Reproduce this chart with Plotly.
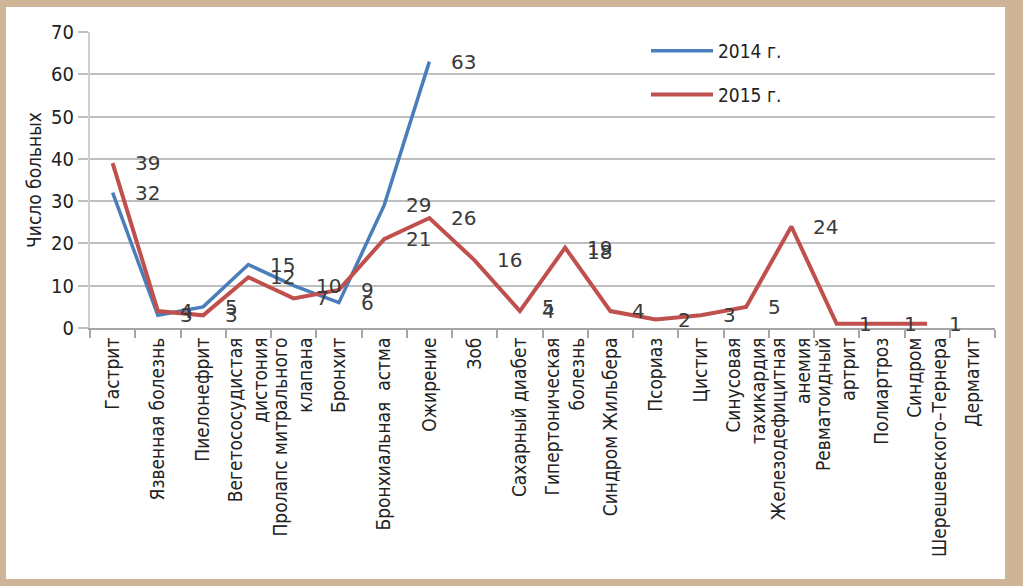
import plotly.graph_objects as go

categories = [
    "Гастрит", "Язвенная болезнь", "Пиелонефрит", "Вегетососудистая<br>дистония",
    "Пролапс митрального<br>клапана", "Бронхит", "Бронхиальная  астма", "Ожирение",
    "Зоб", "Сахарный диабет", "Гипертоническая<br>болезнь", "Синдром Жильбера",
    "Псориаз", "Цистит", "Синусовая<br>тахикардия", "Железодефицитная<br>анемия",
    "Ревматоидный<br>артрит", "Полиартроз", "Синдром<br>Шерешевского–Тернера", "Дерматит",
]
# line values
values_2014 = [32, 3, 5, 15, 10, 6, 29, 63, None, None, None, None,
               None, None, None, None, None, None, None, None]
values_2015 = [39, 4, 3, 12, 7, 9, 21, 26, 16, 4, 19, 4,
               2, 3, 5, 24, 1, 1, 1, None]
# data labels (2014 labels include hidden points)
labels_2014 = [32, 3, 5, 15, 10, 6, 29, 63, None, 5, 18, None,
               None, None, None, None, None, None, None, None]
labels_2015 = values_2015

y_ticks = [0, 10, 20, 30, 40, 50, 60, 70]

BLUE = "#4A7EBB"
RED = "#C0504D"
BEIGE = "#CFB597"
NARROW = "Liberation Sans Narrow, DejaVu Sans Condensed, Arial Narrow, Roboto, sans-serif"
LABELF = "DejaVu Sans, Verdana, sans-serif"

fig = go.Figure()
fig.add_trace(go.Scatter(x=categories, y=values_2014, mode="lines", name="2014 г.",
                         line=dict(color=BLUE, width=3.5), legendgroup="a"))
fig.add_trace(go.Scatter(x=categories, y=values_2015, mode="lines", name="2015 г.",
                         line=dict(color=RED, width=4), legendgroup="b"))

for labs in (labels_2014, labels_2015):
    for c, v in zip(categories, labs):
        if v is None:
            continue
        fig.add_annotation(x=c, y=v, text=str(v), showarrow=False,
                           xanchor="left", yanchor="middle", xshift=20,
                           font=dict(family=LABELF, size=20, color="#3a3a3a"))

# white panel on beige frame
fig.add_shape(type="rect", xref="paper", yref="paper",
              x0=(6 - 90) / 905, x1=(1005 - 90) / 905,
              y0=(328 - 579) / 296, y1=(328 - 7) / 296,
              fillcolor="white", line=dict(width=0), layer="below")

fig.update_layout(
    width=1023, height=586,
    margin=dict(l=90, r=28, t=32, b=258),
    paper_bgcolor=BEIGE, plot_bgcolor="rgba(0,0,0,0)",
    showlegend=True,
    legend=dict(x=(646 - 90) / 905, y=1.0, xanchor="left", yanchor="top",
                bgcolor="rgba(0,0,0,0)", itemwidth=62, tracegroupgap=16,
                traceorder="grouped",
                font=dict(family=NARROW, size=19, color="#222")),
    xaxis=dict(type="category", tickson="boundaries", ticks="outside", ticklen=8,
               tickcolor="#A6A6A6", tickwidth=2, tickangle=-90,
               showline=True, linecolor="#A6A6A6", linewidth=2,
               showgrid=False, range=[-0.5, 19.5], automargin=False,
               tickfont=dict(family=NARROW, size=19, color="#222")),
    yaxis=dict(range=[0, 70], tickvals=y_ticks, ticks="outside", ticklen=10,
               tickcolor="#BFBFBF", tickwidth=2,
               showgrid=True, gridcolor="#BFBFBF", gridwidth=2,
               showline=True, linecolor="#D0D0D0", linewidth=2,
               zeroline=False, automargin=False,
               tickfont=dict(family=NARROW, size=20, color="#222"),
               title=dict(text="Число больных", standoff=4,
                          font=dict(family=NARROW, size=19, color="#222"))),
)

fig.write_html("out.html", config={"displayModeBar": False},
               post_script="document.body.style.margin='0';")
